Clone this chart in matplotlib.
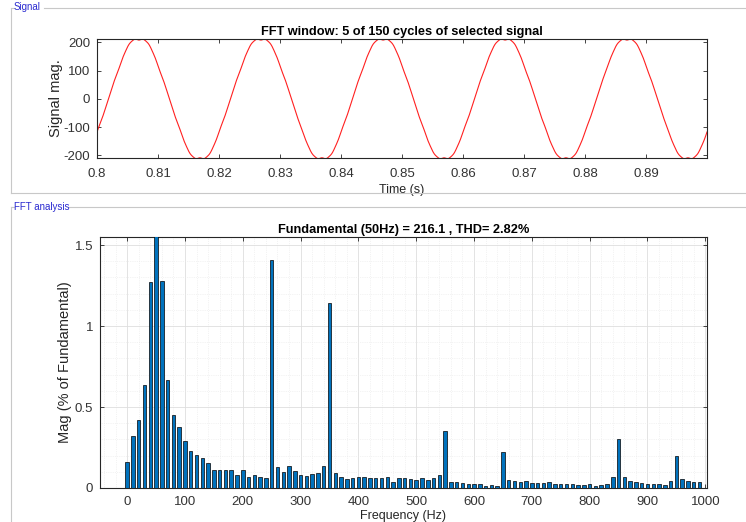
import numpy as np
import matplotlib.pyplot as plt
from matplotlib.lines import Line2D
from matplotlib.ticker import MultipleLocator

plt.rcParams['font.family'] = ['Liberation Sans', 'DejaVu Sans']
plt.rcParams['axes.unicode_minus'] = False

# FFT result: 10 Hz bins, magnitude in % of fundamental
freqs = np.arange(0, 1000, 10)
mags = [0.16, 0.32, 0.42, 0.634, 1.274, 100.0, 1.276, 0.665, 0.453, 0.374,
        0.29, 0.23, 0.204, 0.183, 0.154, 0.109, 0.111, 0.111, 0.111, 0.08,
        0.111, 0.066, 0.08, 0.068, 0.06, 1.41, 0.13, 0.10, 0.134, 0.107,
        0.08, 0.076, 0.086, 0.09, 0.134, 1.142, 0.095, 0.068, 0.056, 0.06,
        0.068, 0.068, 0.06, 0.06, 0.06, 0.068, 0.039, 0.06, 0.06, 0.053,
        0.047, 0.06, 0.051, 0.06, 0.08, 0.354, 0.039, 0.039, 0.033, 0.027,
        0.027, 0.023, 0.014, 0.019, 0.012, 0.22, 0.051, 0.041, 0.037, 0.041,
        0.031, 0.031, 0.031, 0.035, 0.025, 0.025, 0.025, 0.025, 0.019, 0.019,
        0.023, 0.012, 0.019, 0.025, 0.066, 0.30, 0.066, 0.041, 0.035, 0.031,
        0.027, 0.027, 0.023, 0.019, 0.041, 0.195, 0.056, 0.041, 0.035, 0.035]
fundamental = 216.1
thd = 2.82

# time signal rebuilt from the fundamental and the characteristic harmonics
# (signs chosen so the harmonics flatten the peaks)
harm_orders = [5, 7, 11, 13, 17, 19]
harm_signs = [-1, 1, 1, -1, -1, 1]
t = np.linspace(0.8, 0.9, 2000)
phi0 = -0.589
sig = fundamental * np.sin(2 * np.pi * 50 * (t - 0.8) + phi0)
for h, s in zip(harm_orders, harm_signs):
    a = fundamental * mags[h * 5] / 100
    sig += s * a * np.sin(2 * np.pi * 50 * h * (t - 0.8) + h * phi0)

fig = plt.figure(figsize=(7.46, 5.22), dpi=100)
fig.patch.set_facecolor('white')

frame_c = '#c8c8c8'
label_c = '#2a2ad0'

def group_box(y_top, y_bot, x_label_end, text):
    # panel frame with the caption cutting the top line
    W, H = 746.0, 522.0
    x0, x1 = 11 / W, 1.0
    yt, yb = 1 - y_top / H, 1 - y_bot / H
    fig.add_artist(Line2D([x0, x0 + 3 / W], [yt, yt], color=frame_c, lw=0.8))
    fig.add_artist(Line2D([x_label_end / W, x1], [yt, yt], color=frame_c, lw=0.8))
    fig.add_artist(Line2D([x0, x0], [yt, yb], color=frame_c, lw=0.8))
    if y_bot < H:
        fig.add_artist(Line2D([x0, x1], [yb, yb], color=frame_c, lw=0.8))
    fig.text(14 / W, yt, text, color=label_c, fontsize=7, va='center', ha='left')

group_box(7.5, 193, 44, 'Signal')
group_box(207, 530, 69, 'FFT analysis')

ax1 = fig.add_axes([97 / 746, 1 - 158 / 522, 610 / 746, 119 / 522])
ax2 = fig.add_axes([100 / 746, 1 - 488 / 522, 607 / 746, 251 / 522])

edge = '#262626'
for ax in (ax1, ax2):
    for s in ax.spines.values():
        s.set_color(edge)
        s.set_linewidth(0.8)
    ax.tick_params(direction='in', length=3, width=0.6, colors=edge,
                   labelsize=9.5, top=True, right=True, labelcolor='#333333')
    ax.tick_params(axis='y', pad=5)
ax1.tick_params(axis='x', pad=7)
ax2.tick_params(axis='x', pad=6)

# signal panel
ax1.plot(t, sig, color='#ff2020', lw=0.8)
ax1.set_xlim(0.8, 0.9)
ax1.set_ylim(-209, 212)
xt = np.round(np.arange(0.8, 0.895, 0.01), 2)
ax1.set_xticks(xt)
ax1.set_xticklabels([f'{v:g}' for v in xt])
ax1.set_yticks([-200, -100, 0, 100, 200])
ax1.set_title('FFT window: 5 of 150 cycles of selected signal',
              fontsize=9.2, fontweight='bold', pad=3)
ax1.set_xlabel('Time (s)', fontsize=9, labelpad=3, color='#262626')
ax1.set_ylabel('Signal mag.', fontsize=10.5, labelpad=0, color='#262626')

# spectrum panel
ax2.bar(freqs, mags, width=6, color='#0072bd', edgecolor='black',
        linewidth=0.5, zorder=3)
ax2.set_xlim(-47, 1003)
ax2.set_ylim(0, 1.55)
ax2.set_xticks(np.arange(0, 1001, 100))
ax2.set_yticks([0, 0.5, 1, 1.5])
ax2.set_yticklabels(['0', '0.5', '1', '1.5'])
ax2.xaxis.set_minor_locator(MultipleLocator(20))
ax2.yaxis.set_minor_locator(MultipleLocator(0.1))
ax2.tick_params(which='minor', length=0)
ax2.grid(True, which='major', color='#dedede', lw=0.6, ls='-', zorder=0)
ax2.grid(True, which='minor', color='#e8e8e8', lw=0.5, ls=':', zorder=0)
ax2.set_axisbelow(True)
ax2.set_title(f'Fundamental (50Hz) = {fundamental} , THD= {thd}%',
              fontsize=9.2, fontweight='bold', pad=3)
ax2.set_xlabel('Frequency (Hz)', fontsize=9, labelpad=1, color='#262626')
ax2.set_ylabel('Mag (% of Fundamental)', fontsize=10.5, labelpad=2, color='#262626')

fig.savefig('out.png', dpi=100)
